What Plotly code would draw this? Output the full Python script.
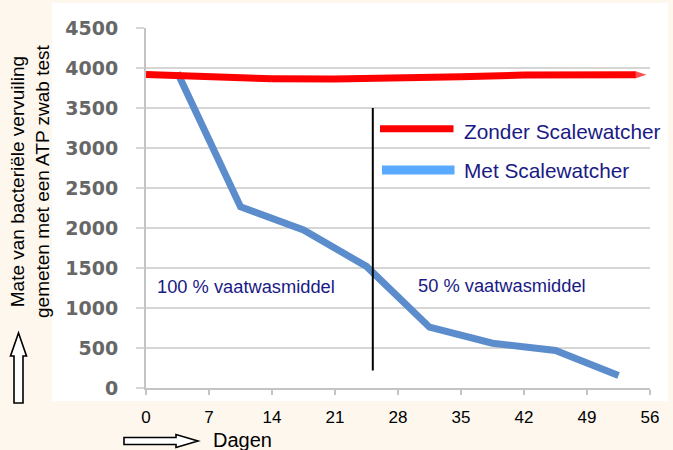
import plotly.graph_objects as go

# ---- data ----
days_zonder = [0, 7, 14, 21, 28, 35, 42, 49, 55.6]
zonder = [3920, 3885, 3865, 3862, 3868, 3890, 3912, 3920, 3915]

days_met = [3.5, 10.5, 17.5, 24.5, 31.5, 38.5, 45.5, 52.5]
met = [3940, 2265, 1975, 1520, 760, 560, 470, 155]

divider_day = [25.2, 25.2]
divider_range = [220, 3500]

x_ticks = [0, 7, 14, 21, 28, 35, 42, 49, 56]
y_ticks = [0, 500, 1000, 1500, 2000, 2500, 3000, 3500, 4000, 4500]

series_names = ["Zonder Scalewatcher", "Met Scalewatcher"]
label_100 = "100 % vaatwasmiddel"
label_50 = "50 % vaatwasmiddel"
y_title = "Mate van bacteriële vervuiling<br>gemeten met een ATP zwab test"
x_title = "Dagen"

# ---- layout helpers (pixel -> paper) ----
W, H = 673, 450
L, R, T, B = 146, 23, 28, 62
PW, PH = W - L - R, H - T - B


def fx(p):
    return (p - L) / PW


def fy(p):
    return (H - B - p) / PH


NAVY = "#1a1a85"
RED = "#ff0000"
BLUE = "#5b8ccc"
LEGEND_BLUE = "#59aaff"

fig = go.Figure()

fig.add_trace(go.Scatter(
    x=days_met, y=met, mode="lines", name=series_names[1],
    line=dict(color=BLUE, width=7), showlegend=False,
))
fig.add_trace(go.Scatter(
    x=days_zonder, y=zonder, mode="lines+markers", name=series_names[0],
    line=dict(color=RED, width=7), showlegend=False,
    marker=dict(symbol="arrow", angleref="previous",
                size=[0] * (len(days_zonder) - 1) + [12], color=RED,
                line=dict(width=0)),
    cliponaxis=False,
))
fig.add_trace(go.Scatter(
    x=divider_day, y=divider_range, mode="lines",
    line=dict(color="black", width=2), showlegend=False,
))

shapes = [
    # white chart panel on cream slide
    dict(type="rect", xref="paper", yref="paper", layer="below",
         x0=fx(52), x1=fx(668), y0=fy(401), y1=fy(3),
         fillcolor="white", line=dict(width=0)),
    # legend samples
    dict(type="line", xref="paper", yref="paper",
         x0=fx(380), x1=fx(453.5), y0=fy(128.7), y1=fy(128.7),
         line=dict(color=RED, width=7)),
    dict(type="line", xref="paper", yref="paper",
         x0=fx(382), x1=fx(454.5), y0=fy(170), y1=fy(170),
         line=dict(color=LEGEND_BLUE, width=9)),
]


def path(points):
    s = "M" + " L".join(f"{fx(a):.5f},{fy(b):.5f}" for a, b in points) + " Z"
    return s


up_arrow = [(14, 403), (23, 403), (23, 356), (26.5, 356), (18.5, 333),
            (10.5, 356), (14, 356)]
right_arrow = [(124, 437.5), (176, 437.5), (176, 434.5), (198, 441),
               (176, 447.5), (176, 444.5), (124, 444.5)]
for pts in (up_arrow, right_arrow):
    shapes.append(dict(type="path", xref="paper", yref="paper",
                       path=path(pts), fillcolor="white",
                       line=dict(color="black", width=1.6)))

annotations = [
    dict(xref="paper", yref="paper", x=fx(462), y=fy(131.5),
         xanchor="left", yanchor="middle", showarrow=False,
         text=series_names[0],
         font=dict(family="Liberation Sans", size=20.8, color=NAVY)),
    dict(xref="paper", yref="paper", x=fx(462), y=fy(170.5),
         xanchor="left", yanchor="middle", showarrow=False,
         text=series_names[1],
         font=dict(family="Liberation Sans", size=20.8, color=NAVY)),
    dict(xref="paper", yref="paper", x=fx(246), y=fy(286.5),
         xanchor="center", yanchor="middle", showarrow=False,
         text=label_100,
         font=dict(family="Liberation Sans", size=18.3, color=NAVY)),
    dict(xref="paper", yref="paper", x=fx(502), y=fy(285),
         xanchor="center", yanchor="middle", showarrow=False,
         text=label_50,
         font=dict(family="Liberation Sans", size=18.3, color=NAVY)),
    dict(xref="paper", yref="paper", x=fx(30), y=fy(181),
         xanchor="center", yanchor="middle", showarrow=False,
         textangle=-90, text=y_title,
         font=dict(family="Liberation Sans", size=19, color="black")),
    dict(xref="paper", yref="paper", x=fx(211), y=fy(440),
         xanchor="left", yanchor="middle", showarrow=False,
         text=x_title,
         font=dict(family="Liberation Sans", size=20, color="black")),
]

fig.update_layout(
    width=W, height=H,
    margin=dict(l=L, r=R, t=T, b=B, pad=0),
    paper_bgcolor="#fdf7ee",
    plot_bgcolor="white",
    shapes=shapes,
    annotations=annotations,
    showlegend=False,
)

fig.update_xaxes(
    range=[0, 56], tickvals=x_ticks, ticktext=[str(v) for v in x_ticks],
    showgrid=False, zeroline=False,
    showline=True, linecolor="#c4c4c4", linewidth=2,
    ticks="outside", ticklen=5, tickwidth=2, tickcolor="#c4c4c4",
    ticklabelstandoff=8,
    tickfont=dict(family="Liberation Sans", size=17, color="black"),
)
fig.update_yaxes(
    range=[0, 4500], tickvals=y_ticks,
    showgrid=True, gridcolor="#d6d6d6", gridwidth=2, zeroline=False,
    showline=True, linecolor="#c4c4c4", linewidth=2,
    ticks="outside", ticklen=8, tickwidth=2, tickcolor="#d6d6d6",
    ticklabelstandoff=14,
    tickfont=dict(family="DejaVu Sans", size=19, color="#676767", weight="bold"),
)

fig.write_html(
    "out.html",
    config={"displayModeBar": False},
    post_script="document.body.style.margin='0';document.body.style.padding='0';",
)
